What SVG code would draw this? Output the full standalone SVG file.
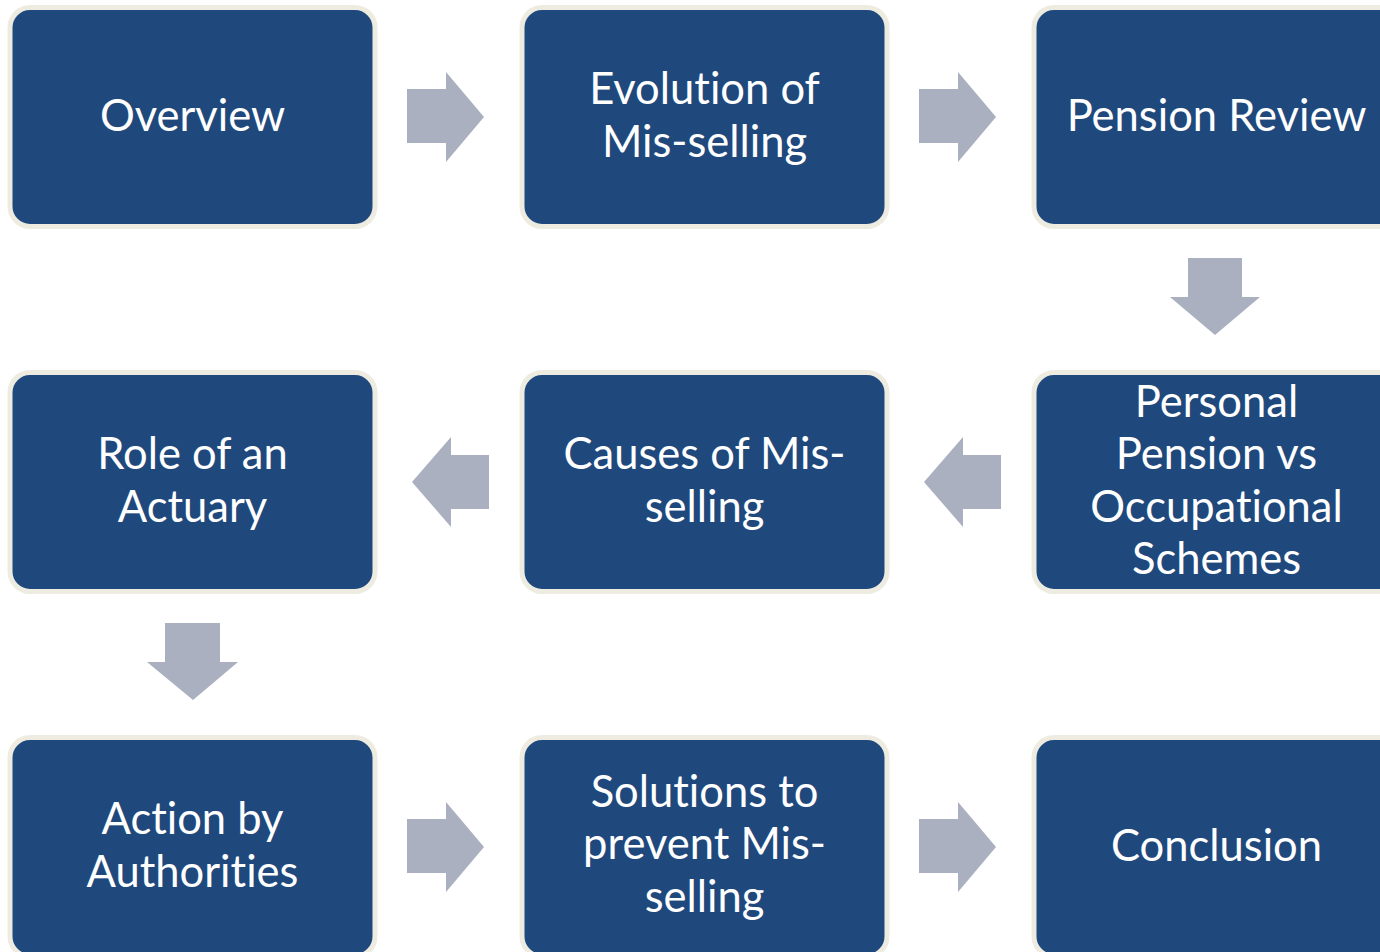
<svg xmlns="http://www.w3.org/2000/svg" width="1380" height="952" viewBox="0 0 1380 952">
  <style>
    .box { fill: #1F497D; stroke: #EEECE1; stroke-width: 5; }
    .arrow { fill: #AAB0BF; }
    .label { font-family: Lato, "Open Sans", "Liberation Sans", sans-serif; font-size: 43.5px; fill: #FFFFFF; text-anchor: middle; font-variant-ligatures: none; }
  </style>
  <rect width="1380" height="952" fill="#FFFFFF"/>

  <!-- connectors: block arrows between steps -->
  <g id="connectors">
    <polygon class="arrow" points="407,89 446,89 446,72 484,117 446,162 446,143 407,143"/>
    <polygon class="arrow" points="919,89 958,89 958,72 996,117 958,162 958,143 919,143"/>
    <polygon class="arrow" points="1188,258 1242,258 1242,297 1260,297 1215,335 1170,297 1188,297"/>
    <polygon class="arrow" points="1001,455 963,455 963,437 924,482 963,527 963,509 1001,509"/>
    <polygon class="arrow" points="489,455 451,455 451,437 412,482 451,527 451,509 489,509"/>
    <polygon class="arrow" points="165,623 220,623 220,662 238,662 193,700 147,662 165,662"/>
    <polygon class="arrow" points="407,819 446,819 446,802 484,847 446,892 446,873 407,873"/>
    <polygon class="arrow" points="919,819 958,819 958,802 996,847 958,892 958,873 919,873"/>
  </g>

  <!-- row 1 -->
  <g id="overview">
    <rect class="box" x="10" y="7.5" width="365" height="219" rx="20"/>
    <text class="label" x="192.5" y="130.5">Overview</text>
  </g>
  <g id="evolution">
    <rect class="box" x="522" y="7.5" width="365" height="219" rx="20"/>
    <text class="label" x="704.5" y="104">Evolution of</text>
    <text class="label" x="704.5" y="156.5">Mis-selling</text>
  </g>
  <g id="pension-review">
    <rect class="box" x="1034" y="7.5" width="365" height="219" rx="20"/>
    <text class="label" x="1216.5" y="130.5">Pension Review</text>
  </g>

  <!-- row 2 -->
  <g id="personal-vs-occupational">
    <rect class="box" x="1034" y="372.5" width="365" height="219" rx="20"/>
    <text class="label" x="1216.5" y="416.5">Personal</text>
    <text class="label" x="1216.5" y="469">Pension vs</text>
    <text class="label" x="1216.5" y="521.5">Occupational</text>
    <text class="label" x="1216.5" y="574">Schemes</text>
  </g>
  <g id="causes">
    <rect class="box" x="522" y="372.5" width="365" height="219" rx="20"/>
    <text class="label" x="704.5" y="469">Causes of Mis-</text>
    <text class="label" x="704.5" y="521.5">selling</text>
  </g>
  <g id="role-of-actuary">
    <rect class="box" x="10" y="372.5" width="365" height="219" rx="20"/>
    <text class="label" x="192.5" y="469">Role of an</text>
    <text class="label" x="192.5" y="521.5">Actuary</text>
  </g>

  <!-- row 3 -->
  <g id="action-by-authorities">
    <rect class="box" x="10" y="737.5" width="365" height="219" rx="20"/>
    <text class="label" x="192.5" y="834">Action by</text>
    <text class="label" x="192.5" y="886.5">Authorities</text>
  </g>
  <g id="solutions">
    <rect class="box" x="522" y="737.5" width="365" height="219" rx="20"/>
    <text class="label" x="704.5" y="806.5">Solutions to</text>
    <text class="label" x="704.5" y="859">prevent Mis-</text>
    <text class="label" x="704.5" y="911.5">selling</text>
  </g>
  <g id="conclusion">
    <rect class="box" x="1034" y="737.5" width="365" height="219" rx="20"/>
    <text class="label" x="1216.5" y="860.5">Conclusion</text>
  </g>
</svg>
